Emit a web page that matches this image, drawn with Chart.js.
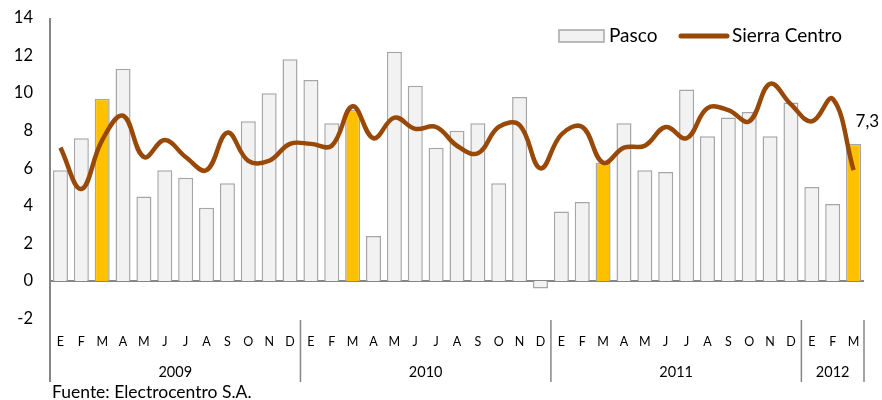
<!DOCTYPE html>
<html>
<head>
<meta charset="utf-8">
<script src="https://cdn.jsdelivr.net/npm/chart.js@4.4.1/dist/chart.umd.min.js"></script>
<style>
  html, body { margin: 0; padding: 0; background: #ffffff; }
  #wrap { width: 882px; height: 400px; }
</style>
</head>
<body>
<div id="wrap"><canvas id="c" width="882" height="400"></canvas></div>
<script>
const months = ['E','F','M','A','M','J','J','A','S','O','N','D',
                'E','F','M','A','M','J','J','A','S','O','N','D',
                'E','F','M','A','M','J','J','A','S','O','N','D',
                'E','F','M'];
const years = ['2009','2010','2011','2012'];
const yearSpans = [12, 12, 12, 3];
const pasco = [5.9,7.6,9.7,11.3,4.5,5.9,5.5,3.9,5.2,8.5,10.0,11.8,
               10.7,8.4,9.1,2.4,12.2,10.4,7.1,8.0,8.4,5.2,9.8,-0.4,
               3.7,4.2,6.3,8.4,5.9,5.8,10.2,7.7,8.7,9.0,7.7,9.5,
               5.0,4.1,7.3];
const sierra = [7.1,4.9,7.5,8.8,6.6,7.5,6.6,5.9,7.9,6.4,6.4,7.3,
                7.3,7.2,9.3,7.6,8.7,8.1,8.2,7.2,6.8,8.2,8.3,6.0,
                7.8,8.2,6.3,7.1,7.2,8.2,7.6,9.2,9.1,8.5,10.5,9.4,
                8.5,9.7,5.9];
const yTicks = [-2,0,2,4,6,8,10,12,14];
const lastLabel = '7,3';

const FONT = 'Lato, "Open Sans", sans-serif';
const BROWN = '#984807';
const YELLOW = '#ffc000';
const AXIS = '#868686';

const barColors = pasco.map((v, i) => (i % 12 === 2 ? YELLOW : '#f2f2f2'));

const decor = {
  id: 'decor',
  beforeDatasetsDraw(chart) {
    const ctx = chart.ctx, a = chart.chartArea, y = chart.scales.y;
    ctx.save();
    ctx.strokeStyle = AXIS;
    ctx.lineWidth = 2;
    const y0 = Math.round(y.getPixelForValue(0));
    ctx.beginPath();
    ctx.moveTo(a.left, y0);
    ctx.lineTo(a.right, y0);
    ctx.stroke();
    ctx.restore();
  },
  afterDatasetsDraw(chart) {
    const ctx = chart.ctx, a = chart.chartArea, x = chart.scales.x;
    ctx.save();
    // y axis line
    ctx.strokeStyle = AXIS;
    ctx.lineWidth = 2;
    ctx.beginPath();
    ctx.moveTo(a.left, a.top);
    ctx.lineTo(a.left, 382);
    ctx.stroke();
    // year separators and labels
    const half = (x.getPixelForValue(1) - x.getPixelForValue(0)) / 2;
    let start = 0;
    ctx.lineWidth = 1.5;
    ctx.fillStyle = '#000';
    ctx.font = '14.5px ' + FONT;
    ctx.textAlign = 'center';
    ctx.textBaseline = 'middle';
    years.forEach((yr, k) => {
      const end = start + yearSpans[k] - 1;
      const xl = x.getPixelForValue(start) - half;
      const xr = x.getPixelForValue(end) + half;
      ctx.beginPath();
      ctx.moveTo(xr, 320);
      ctx.lineTo(xr, 382);
      ctx.stroke();
      ctx.fillText(yr, (xl + xr) / 2, 372);
      start = end + 1;
    });
    // data label for the last bar
    const meta = chart.getDatasetMeta(1);
    const el = meta.data[pasco.length - 1];
    ctx.font = '17px ' + FONT;
    ctx.textAlign = 'left';
    ctx.fillText(lastLabel, el.x + 2, el.y - 22);
    // legend
    ctx.fillStyle = '#f2f2f2';
    ctx.strokeStyle = '#a6a6a6';
    ctx.lineWidth = 1.5;
    ctx.fillRect(559, 30, 45, 12);
    ctx.strokeRect(559, 30, 45, 12);
    ctx.fillStyle = '#000';
    ctx.font = '19px ' + FONT;
    ctx.textAlign = 'left';
    ctx.fillText('Pasco', 609, 36);
    ctx.strokeStyle = BROWN;
    ctx.lineWidth = 5;
    ctx.lineCap = 'round';
    ctx.beginPath();
    ctx.moveTo(681, 36);
    ctx.lineTo(727, 36);
    ctx.stroke();
    ctx.fillText('Sierra Centro', 732, 36);
    // source
    ctx.font = '17.5px ' + FONT;
    ctx.fillText('Fuente: Electrocentro S.A.', 52, 392);
    ctx.restore();
  }
};

new Chart(document.getElementById('c'), {
  data: {
    labels: months,
    datasets: [
      {
        type: 'line',
        label: 'Sierra Centro',
        data: sierra,
        borderColor: BROWN,
        borderWidth: 4.5,
        pointRadius: 0,
        tension: 0.4,
        fill: false,
        order: 0
      },
      {
        type: 'bar',
        label: 'Pasco',
        data: pasco,
        backgroundColor: barColors,
        borderColor: '#a6a6a6',
        borderWidth: 1.5,
        barPercentage: 0.72,
        categoryPercentage: 1.0,
        order: 1
      }
    ]
  },
  options: {
    responsive: false,
    animation: false,
    devicePixelRatio: 1,
    layout: { padding: { top: 0, right: 18, left: 0, bottom: 0 } },
    plugins: { legend: { display: false }, tooltip: { enabled: false } },
    scales: {
      x: {
        type: 'category',
        offset: true,
        grid: { display: false, drawTicks: false },
        border: { display: false },
        ticks: {
          color: '#000',
          font: { family: FONT, size: 12.5 },
          padding: 16,
          maxRotation: 0,
          autoSkip: false
        },
        afterFit(s) { s.height = 81.4; }
      },
      y: {
        min: -2,
        max: 14,
        afterBuildTicks(s) { s.ticks = yTicks.map(v => ({ value: v })); },
        grid: { display: false, drawTicks: false },
        border: { display: false },
        ticks: {
          color: '#000',
          font: { family: FONT, size: 16.5 },
          padding: 17
        },
        afterFit(s) { s.width = 50; s.paddingTop = 18; s.paddingBottom = 0; }
      }
    }
  },
  plugins: [decor]
});
</script>
</body>
</html>
